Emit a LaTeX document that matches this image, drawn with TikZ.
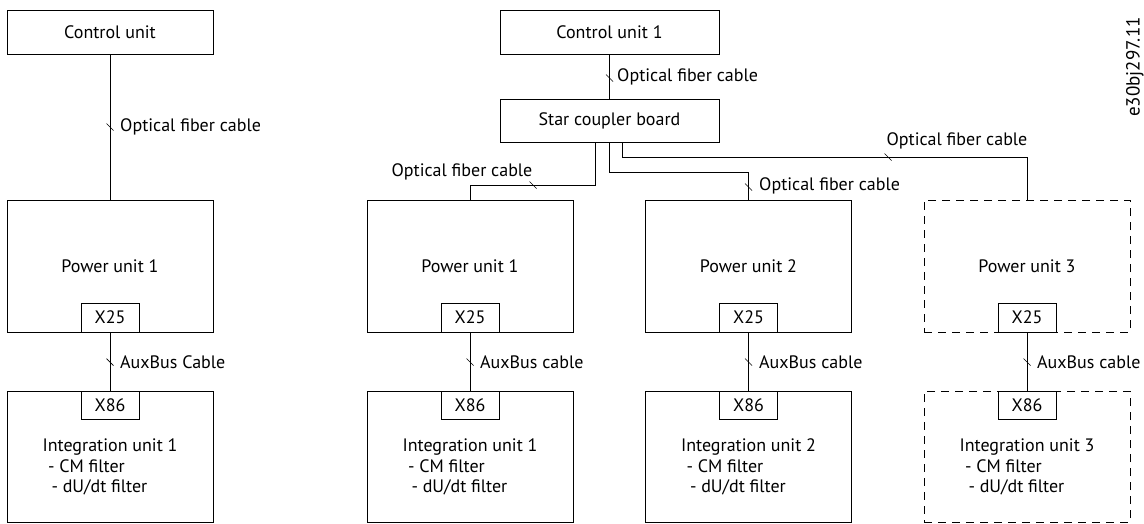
\documentclass[tikz,border=0pt]{standalone}
\usepackage{fontspec}
\setmainfont{PT Sans}
\usetikzlibrary{calc}
\begin{document}
\begin{tikzpicture}[x=1pt,y=-1pt,
  txt/.style={font=\fontsize{18}{20.5}\selectfont, inner sep=0pt},
  unitbox/.style={draw, line width=0.9pt, inner sep=0pt, txt},
  dashbox/.style={unitbox, dash pattern=on 8pt off 6pt},
  portbox/.style={draw, line width=0.9pt, inner sep=0pt, fill=white, minimum width=58pt, minimum height=29pt, txt},
  wire/.style={line width=0.9pt},
  lbl/.style={txt, anchor=west},
  filtertext/.style={txt, align=left},
  cabletick/.pic={\draw[line width=0.7pt] (-3.5,-3.5) -- (3.5,3.5);}
]
\useasboundingbox (0,0) rectangle (1144,523);

% ---------- left system ----------
\node[unitbox, minimum width=206pt, minimum height=44pt] (cuL) at (110,32) {Control unit};
\node[unitbox, minimum width=206pt, minimum height=132pt] (puL) at (110,266) {Power unit 1};
\node[portbox] (x25L) at (110,317.5) {X25};
\node[unitbox, minimum width=206pt, minimum height=131pt] (iuL) at (110,456.5) {};
\node[portbox, minimum height=28pt] (x86L) at (110,405) {X86};
\node[filtertext] (iuLt) at (110,467) {Integration unit 1\\\hspace*{5.5pt}- CM filter\\\hspace*{9pt}- dU/dt filter};

\draw[wire] (cuL) -- (puL);
\draw[wire] (x25L) -- (x86L);
\pic at (110,127) {cabletick};
\pic at (110,362) {cabletick};
\node[lbl] (lofL) at (120,127) {Optical fiber cable};
\node[lbl] (lauxL) at (120,362) {AuxBus Cable};

% ---------- right system ----------
\node[unitbox, minimum width=219pt, minimum height=44pt] (cu1) at (609.5,32) {Control unit 1};
\node[unitbox, minimum width=219pt, minimum height=43pt] (sc) at (609.5,120.5) {Star coupler board};

\node[unitbox, minimum width=206pt, minimum height=132pt] (pu1) at (470,266) {Power unit 1};
\node[unitbox, minimum width=206pt, minimum height=132pt] (pu2) at (748.5,266) {Power unit 2};
\node[dashbox, minimum width=206pt, minimum height=132pt] (pu3) at (1027,266) {Power unit 3};

\node[portbox] (x25a) at (470,317.5) {X25};
\node[portbox] (x25b) at (748.5,317.5) {X25};
\node[portbox] (x25c) at (1027,317.5) {X25};

\node[unitbox, minimum width=206pt, minimum height=131pt] (iu1) at (470,456.5) {};
\node[unitbox, minimum width=206pt, minimum height=131pt] (iu2) at (748.5,456.5) {};
\node[dashbox, minimum width=206pt, minimum height=131pt] (iu3) at (1027,456.5) {};

\node[portbox, minimum height=28pt] (x86a) at (470,405) {X86};
\node[portbox, minimum height=28pt] (x86b) at (748.5,405) {X86};
\node[portbox, minimum height=28pt] (x86c) at (1027,405) {X86};

\node[filtertext] (iu1t) at (470,467) {Integration unit 1\\\hspace*{5.5pt}- CM filter\\\hspace*{9pt}- dU/dt filter};
\node[filtertext] (iu2t) at (748.5,467) {Integration unit 2\\\hspace*{5.5pt}- CM filter\\\hspace*{9pt}- dU/dt filter};
\node[filtertext] (iu3t) at (1027,467) {Integration unit 3\\\hspace*{5.5pt}- CM filter\\\hspace*{9pt}- dU/dt filter};

% optical links
\draw[wire] (cu1) -- (sc);
\coordinate (scA) at ($(sc.south)+(-14.5,0)$);
\coordinate (scC) at ($(sc.south)+(13,0)$);
\draw[wire] (scA) -- ++(0,43) -| (pu1.north);
\draw[wire] (sc.south) -- ++(0,30) -| (pu2.north);
\draw[wire] (scC) -- ++(0,15) -| (pu3.north);

\pic at (609.5,78) {cabletick};
\pic at (533,185) {cabletick};
\pic at (748.5,187) {cabletick};
\pic at (888,157) {cabletick};

\node[lbl] (lof0) at (617,77) {Optical fiber cable};
\node[txt] (lof1) at (462,172) {Optical fiber cable};
\node[lbl] (lof2) at (759,186) {Optical fiber cable};
\node[txt] (lof3) at (957,141) {Optical fiber cable};

% aux links
\draw[wire] (x25a) -- (x86a);
\draw[wire] (x25b) -- (x86b);
\draw[wire] (x25c) -- (x86c);
\pic at (470,362) {cabletick};
\pic at (748.5,362) {cabletick};
\pic at (1027,362) {cabletick};
\node[lbl] (laux1) at (480,362) {AuxBus cable};
\node[lbl] (laux2) at (759,362) {AuxBus cable};
\node[lbl] (laux3) at (1037,362) {AuxBus cable};

% figure code
\node[txt, rotate=90, anchor=base, font=\fontsize{19}{21}\selectfont] (code) at (1139.5,67) {e30bj297.11};
\end{tikzpicture}
\end{document}
